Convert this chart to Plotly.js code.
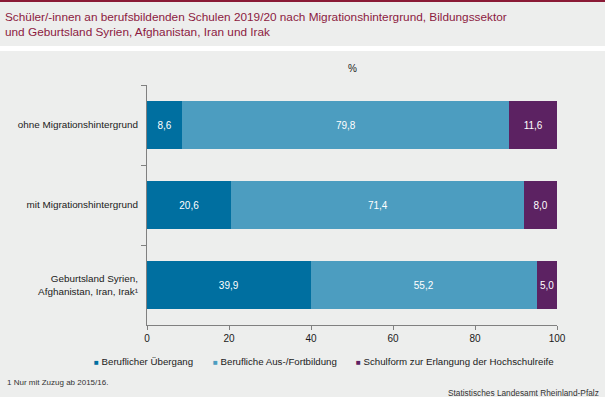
<!DOCTYPE html>
<html><head><meta charset="utf-8">
<script src="https://cdn.plot.ly/plotly-3.0.1.min.js"></script>
<style>html,body{margin:0;padding:0;background:#EDEEED;}#c{width:605px;height:397px;}</style>
</head><body><div id="c"></div>
<script>
const categories = ["ohne Migrationshintergrund", "mit Migrationshintergrund", "Geburtsland Syrien,<br>Afghanistan, Iran, Irak¹"];
const seriesNames = ["Beruflicher Übergang", "Berufliche Aus-/Fortbildung", "Schulform zur Erlangung der Hochschulreife"];
const uebergang = [8.6, 20.6, 39.9];
const ausbildung = [79.8, 71.4, 55.2];
const hochschulreife = [11.6, 8.0, 5.0];
const xTicks = [0, 20, 40, 60, 80, 100];
const colors = ["#006FA0", "#4C9DC0", "#5C2262"];

const W = 605, H = 397, L = 147, R = 48, T = 85, B = 72;
const pw = W - L - R, ph = H - T - B;
const px = x => (x - L) / pw;
const py = y => (H - B - y) / ph;

const series = [uebergang, ausbildung, hochschulreife];
const traces = series.map((vals, i) => ({
  type: 'bar', orientation: 'h', name: seriesNames[i],
  x: vals, y: categories,
  marker: {color: colors[i], line: {width: 0}},
  text: vals, texttemplate: '%{x:.1f}', textposition: 'inside', insidetextanchor: 'middle',
  textfont: {color: '#FFFFFF', size: 10}, showlegend: false, hoverinfo: 'skip'
}));

const ff = '"Liberation Sans", Arial, sans-serif';
const font = {family: ff, size: 10, color: '#1A1A1A'};

// legend drawn as annotations (tight spacing as in reference)
const legendX = [92, 211, 354];
const legendAnn = seriesNames.map((n, i) => ({
  xref: 'paper', yref: 'paper', x: px(legendX[i]), y: py(361), xanchor: 'left', yanchor: 'middle',
  text: '<span style="color:' + colors[i] + ';font-size:8px">■</span> ' + n,
  showarrow: false, font: {family: ff, size: 9.7, color: '#1A1A1A'}
}));

const layout = {
  width: W, height: H,
  margin: {l: L, r: R, t: T, b: B, pad: 0},
  paper_bgcolor: '#EDEEED', plot_bgcolor: '#EDEEED',
  font: font, separators: ',.',
  barmode: 'stack', bargap: 0.41,
  showlegend: false,
  xaxis: {
    range: [0, 100], tickvals: xTicks, ticktext: xTicks.map(String),
    showgrid: false, zeroline: false, showline: true, linecolor: '#808080', linewidth: 1,
    ticks: 'outside', ticklen: 4, tickcolor: '#808080', tickfont: {size: 10, color: '#1A1A1A'}
  },
  yaxis: {
    type: 'category', autorange: 'reversed',
    showgrid: false, zeroline: false, showline: true, linecolor: '#808080', linewidth: 1,
    ticks: 'outside', ticklen: 5, tickcolor: '#808080', tickson: 'boundaries',
    ticklabelstandoff: 6,
    tickfont: {size: 9.9, color: '#1A1A1A'}
  },
  shapes: [
    {type: 'rect', xref: 'paper', yref: 'paper', x0: px(0), x1: px(W), y0: py(2), y1: py(-2), fillcolor: '#8B1A36', line: {width: 0}, layer: 'below'},
    {type: 'rect', xref: 'paper', yref: 'paper', x0: px(0), x1: px(W), y0: py(51), y1: py(46), fillcolor: '#FFFFFF', line: {width: 0}, layer: 'below'}
  ],
  annotations: [
    {xref: 'paper', yref: 'paper', x: px(3), y: py(24.5), xanchor: 'left', yanchor: 'middle', align: 'left', showarrow: false,
     text: 'Schüler/-innen an berufsbildenden Schulen 2019/20 nach Migrationshintergrund, Bildungssektor<br>und Geburtsland Syrien, Afghanistan, Iran und Irak',
     font: {family: ff, size: 11.8, color: '#8C1A3F'}},
    {xref: 'paper', yref: 'paper', x: px(352), y: py(68), text: '%', showarrow: false, xanchor: 'center', yanchor: 'middle', font: {size: 10, color: '#1A1A1A'}},
    {xref: 'paper', yref: 'paper', x: px(5), y: py(382), text: '1 Nur mit Zuzug ab 2015/16.', showarrow: false, xanchor: 'left', yanchor: 'middle', font: {size: 8, color: '#333333'}},
    {xref: 'paper', yref: 'paper', x: px(601), y: py(393), text: 'Statistisches Landesamt Rheinland-Pfalz', showarrow: false, xanchor: 'right', yanchor: 'middle', font: {size: 8.3, color: '#333333'}}
  ].concat(legendAnn)
};

Plotly.newPlot('c', traces, layout, {staticPlot: true, displayModeBar: false});
</script></body></html>
